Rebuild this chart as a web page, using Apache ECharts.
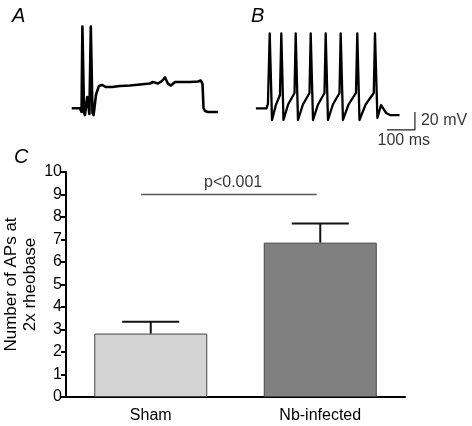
<!DOCTYPE html>
<html>
<head>
<meta charset="utf-8">
<script src="https://cdn.jsdelivr.net/npm/echarts@6/dist/echarts.min.js"></script>
<style>html,body{margin:0;padding:0;background:#fff}#c{width:472px;height:426px}</style>
</head>
<body>
<div id="c"></div>
<script>
// Panel A trace: [time ms, membrane potential mV]
const traceA = [
  [42,-59.2],[71,-59.2],[77,-63.3],[80,31.7],[86,-64.4],[89,-66.7],[97.5,-46.7],[105,-65.6],
  [110,31.7],[116,-64.4],[120,-66.7],[128.5,-44.4],[139,-34.4],[150,-33.3],[164,-35.6],
  [186,-35.6],[214,-34.4],[250,-33.9],[286,-32.8],[321,-31.7],[332,-30],[339,-28.3],
  [350,-31.7],[364,-28.9],[375,-25],[386,-32.2],[396,-33.9],[411,-30],[428,-30],[464,-30],
  [493,-29.4],[503,-28.3],[509,-32.2],[512.5,-58.9],[518,-62.2],[528,-63.3],[564,-63.3]
];
// Panel B trace: [time ms, membrane potential mV]
const traceB = [
  [21,-59.2],[59,-59.2],[64,-54.4],[70.4,23.9],[78.6,-72.2],[92,-56],[107,-44.4],
  [111.8,23.9],[119.6,-72.2],[136,-55],[159,-42.2],
  [163.2,23.9],[171.4,-72.2],[189,-55],[212.5,-42.2],
  [216.8,23.9],[225,-72.2],[243,-55],[266,-42.2],
  [270.3,23.9],[278.5,-72.2],[296,-55],[319.6,-42.2],
  [323.9,23.9],[332,-72.2],[352,-55],[378.5,-42.2],
  [383.2,23.9],[391,-72.2],[413,-55],[442,-42.2],
  [446.4,23.9],[455,-70],[461,-63.3],[468,-55.6],[475,-57.8],[486,-64.4],[500,-66.7],[534,-66.7]
];
// Scale bars (ms, mV)
const scaleBar = [[489,-83.3],[589,-83.3],[589,-63.3]];
const scaleLabels = ['20 mV','100 ms'];

// Panel C data
const categories = ['Sham','Nb-infected'];
const means = [2.82, 6.86];
const sems = [0.53, 0.85];
const barColors = ['#d4d4d4','#808080'];
const sigLine = [[0.443, 9],[1.479, 9]];
const sigText = 'p<0.001';
const yName = 'Number of APs at\n2x rheobase';

const FONT = 'Liberation Sans, Arial, Helvetica, sans-serif';
const chart = echarts.init(document.getElementById('c'), null, {renderer:'canvas'});

const hiddenAxis = (type, min, max, grid) => ({type, min, max, gridIndex:grid, show:false});

chart.setOption({
  animation:false,
  backgroundColor:'#fff',
  textStyle:{fontFamily:FONT},
  grid:[
    {left:60, top:19, width:168, height:126, outerBoundsMode:'none', containLabel:false},
    {left:250, top:19, width:168, height:126, outerBoundsMode:'none', containLabel:false},
    {left:66, top:172, right:67, bottom:29, outerBoundsMode:'none', containLabel:false}
  ],
  xAxis:[
    hiddenAxis('value',0,600,0),
    hiddenAxis('value',0,600,1),
    {type:'category', gridIndex:2, data:categories,
     axisLine:{lineStyle:{color:'#000', width:2}},
     axisTick:{alignWithLabel:true, length:5, lineStyle:{color:'#000', width:2}},
     axisLabel:{color:'#000', fontSize:16, fontFamily:FONT, margin:11}},
    hiddenAxis('value',0,2,2)
  ],
  yAxis:[
    hiddenAxis('value',-100,40,0),
    hiddenAxis('value',-100,40,1),
    {type:'value', gridIndex:2, min:0, max:10, interval:1,
     name:yName, nameLocation:'middle', nameGap:26, nameRotate:90, nameMoveOverlap:false,
     nameTextStyle:{color:'#000', fontSize:17, fontFamily:FONT, lineHeight:19},
     splitLine:{show:false},
     axisLine:{show:true, lineStyle:{color:'#000', width:2}},
     axisTick:{show:true, length:5, lineStyle:{color:'#000', width:2}},
     axisLabel:{color:'#000', fontSize:16, fontFamily:FONT, margin:4}}
  ],
  graphic:[
    {type:'text', style:{x:12, y:16, text:'A', font:'italic 20px '+FONT, fill:'#000', textVerticalAlign:'middle'}},
    {type:'text', style:{x:251, y:16, text:'B', font:'italic 20px '+FONT, fill:'#000', textVerticalAlign:'middle'}},
    {type:'text', style:{x:14, y:157, text:'C', font:'italic 20px '+FONT, fill:'#000', textVerticalAlign:'middle'}}
  ],
  series:[
    {type:'line', xAxisIndex:0, yAxisIndex:0, data:traceA, symbol:'none', clip:false,
     lineStyle:{color:'#000', width:2.6, join:'round'}},
    {type:'line', xAxisIndex:1, yAxisIndex:1, data:traceB, symbol:'none', clip:false,
     lineStyle:{color:'#000', width:2.3, join:'round'}},
    {type:'line', xAxisIndex:1, yAxisIndex:1, data:scaleBar, symbol:'none', clip:false,
     lineStyle:{color:'#222', width:1.2}},
    {type:'scatter', xAxisIndex:1, yAxisIndex:1, symbolSize:0, clip:false,
     data:[{value:[589,-73.3], label:{formatter:scaleLabels[0], position:'right', distance:6}},
           {value:[549,-83.3], label:{formatter:scaleLabels[1], position:'bottom', distance:3}}],
     label:{show:true, color:'#000', fontSize:16, fontFamily:FONT}},
    {type:'bar', xAxisIndex:2, yAxisIndex:2, barWidth:113,
     data:means.map((v,i)=>({value:v, itemStyle:{color:barColors[i]}})),
     itemStyle:{borderColor:'#444', borderWidth:1}},
    {type:'custom', xAxisIndex:2, yAxisIndex:2, z:5,
     data:means.map((m,i)=>[i,m,sems[i]]),
     renderItem:function(params, api){
       const x=api.value(0), m=api.value(1), s=api.value(2);
       const p0=api.coord([x,m]), p1=api.coord([x,m+s]);
       const hw=28.5;
       return {type:'group', children:[
         {type:'line', shape:{x1:p0[0],y1:p0[1],x2:p1[0],y2:p1[1]}, style:{stroke:'#111', lineWidth:2}},
         {type:'line', shape:{x1:p1[0]-hw,y1:p1[1],x2:p1[0]+hw,y2:p1[1]}, style:{stroke:'#111', lineWidth:2}}
       ]};
     }},
    {type:'line', xAxisIndex:3, yAxisIndex:2, data:sigLine, symbol:'none',
     lineStyle:{color:'#555', width:1.5}},
    {type:'scatter', xAxisIndex:3, yAxisIndex:2, symbolSize:0,
     data:[[(sigLine[0][0]+sigLine[1][0])/2+0.025, 9]],
     label:{show:true, formatter:sigText, position:'top', distance:4, color:'#000', fontSize:16, fontFamily:FONT}}
  ]
});
</script>
</body>
</html>
